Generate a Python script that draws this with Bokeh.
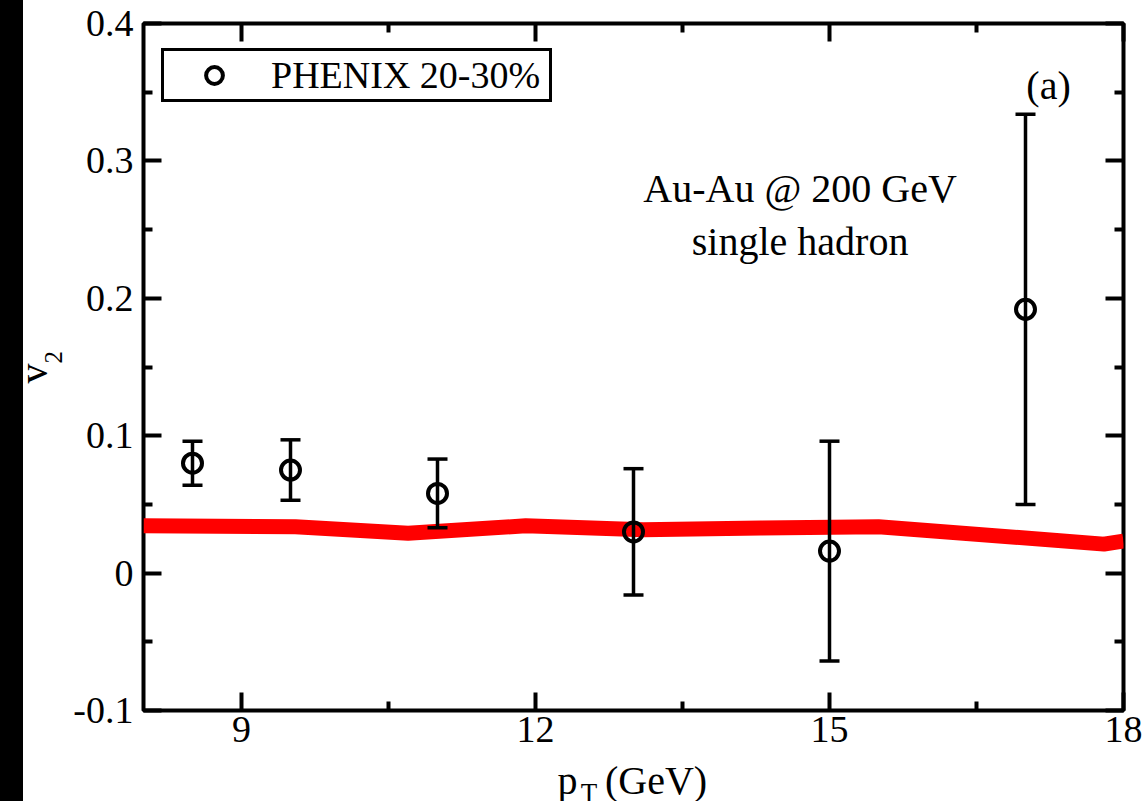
import math
from bokeh.plotting import figure
from bokeh.models import (Range1d, FixedTicker, LinearAxis, CustomJSTickFormatter, Label,
                          Legend, LegendItem, Whisker, TeeHead, ColumnDataSource, Div)
from bokeh.layouts import row, column
from bokeh.embed import file_html
from bokeh.resources import INLINE

# ---- data ----
pt_data = [8.5, 9.5, 11.0, 13.0, 15.0, 17.0]
v2_data = [0.080, 0.075, 0.058, 0.030, 0.016, 0.192]
v2_err = [0.016, 0.022, 0.025, 0.046, 0.080, 0.142]

pt_line = [8.0, 9.55, 10.7, 11.9, 13.1, 14.3, 15.5, 17.8, 18.0]
v2_line = [0.0344, 0.0338, 0.029, 0.0344, 0.0315, 0.0328, 0.0338, 0.0211, 0.0233]

x_ticks = [9, 12, 15, 18]
x_tick_labels = ["9", "12", "15", "18"]
x_minor = [10.5, 13.5, 16.5]
y_ticks = [-0.1, 0.0, 0.1, 0.2, 0.3, 0.4]
y_tick_labels = ["-0.1", "0", "0.1", "0.2", "0.3", "0.4"]
y_minor = [-0.05, 0.05, 0.15, 0.25, 0.35]

legend_text = "PHENIX 20-30%"
note_line1 = "Au-Au @ 200 GeV"
note_line2 = "single hadron"
panel_tag = "(a)"
x_title = ("p", "T", "(GeV)")
y_title = ("v", "2")

FONT = "Liberation Serif"

x_range = Range1d(8, 18)

# ---- main plot ----
p = figure(width=1079, height=762, output_backend="svg", toolbar_location=None,
           x_range=x_range, y_range=Range1d(-0.1, 0.4),
           min_border_left=75, min_border_right=24, min_border_top=23, min_border_bottom=52,
           x_axis_location=None, y_axis_location=None, margin=0)
p.grid.visible = False
p.outline_line_color = "black"
p.outline_line_width = 4
p.background_fill_color = "white"
p.border_fill_color = "white"

def fmt(tv, tl):
    return CustomJSTickFormatter(args=dict(tv=tv, tl=tl), code="""
        for (let i = 0; i < tv.length; i++) { if (Math.abs(tv[i] - tick) < 1e-9) return tl[i]; }
        return '';""")

blank = CustomJSTickFormatter(code="return '';")

def style_axis(ax, show_labels):
    ax.axis_line_color = None
    ax.major_tick_in = 18
    ax.major_tick_out = 0
    ax.minor_tick_in = 9
    ax.minor_tick_out = 0
    ax.major_tick_line_width = 4
    ax.minor_tick_line_width = 4
    ax.major_tick_line_color = "black"
    ax.minor_tick_line_color = "black"
    ax.major_label_text_font = FONT
    ax.major_label_text_font_size = "38px"
    ax.major_label_text_color = "black"
    if not show_labels:
        ax.major_label_standoff = 0

xt = FixedTicker(ticks=x_ticks, minor_ticks=x_minor)
yt = FixedTicker(ticks=y_ticks, minor_ticks=y_minor)

xb = LinearAxis(ticker=xt, formatter=fmt(x_ticks, x_tick_labels))
style_axis(xb, True); xb.major_label_standoff = 6
xa = LinearAxis(ticker=xt, formatter=blank)
style_axis(xa, False)
yl = LinearAxis(ticker=yt, formatter=fmt(y_ticks, y_tick_labels))
style_axis(yl, True); yl.major_label_standoff = 10
yr = LinearAxis(ticker=yt, formatter=blank)
style_axis(yr, False)
p.add_layout(xb, "below")
p.add_layout(xa, "above")
p.add_layout(yl, "left")
p.add_layout(yr, "right")

# theory curve
p.line(pt_line, v2_line, line_color="#ff0000", line_width=15)

# data with error bars
src = ColumnDataSource(dict(x=pt_data, y=v2_data,
                            upper=[v + e for v, e in zip(v2_data, v2_err)],
                            lower=[v - e for v, e in zip(v2_data, v2_err)]))
wh = Whisker(source=src, base="x", upper="upper", lower="lower",
             line_color="black", line_width=3.5, level="glyph",
             upper_head=TeeHead(size=20, line_width=3.5, line_color="black"),
             lower_head=TeeHead(size=20, line_width=3.5, line_color="black"))
p.add_layout(wh)
pts = p.scatter("x", "y", source=src, marker="circle", size=19, fill_color=None,
                line_color="black", line_width=4)

legend = Legend(items=[LegendItem(label=legend_text, renderers=[pts])],
                location=(18, 608), margin=0, padding=2, spacing=0,
                glyph_width=96, glyph_height=42, label_standoff=9, label_width=276,
                label_text_font=FONT, label_text_font_size="38px", label_text_color="black",
                label_text_baseline="middle",
                border_line_color="black", border_line_width=3.5, border_line_alpha=1.0,
                background_fill_color="white", background_fill_alpha=1.0)
p.add_layout(legend)

for txt, x, y in [(note_line1, 14.7, 0.2802), (note_line2, 14.7, 0.2416), (panel_tag, 17.235, 0.3551)]:
    p.add_layout(Label(x=x, y=y, text=txt, text_align="center", text_baseline="alphabetic",
                       text_font=FONT, text_font_size="40px", text_color="black"))

# ---- x title strip (window rows 762..801), same x scale as the plot ----
xf = figure(width=1079, height=39, output_backend="svg", toolbar_location=None,
            x_range=x_range, y_range=Range1d(801, 762),
            min_border_left=75, min_border_right=24, min_border_top=0, min_border_bottom=0,
            x_axis_location=None, y_axis_location=None, margin=0)
xf.grid.visible = False
xf.outline_line_color = None
for txt, x, y, fs in [(x_title[0], 12.327, 780, "40px"), (x_title[1], 12.546, 792, "27px"),
                      (x_title[2], 13.23, 780, "40px")]:
    xf.add_layout(Label(x=x, y=y, text=txt, text_align="center", text_baseline="alphabetic",
                        text_font=FONT, text_font_size=fs, text_color="black"))

# ---- y title strip (window pixels 23..68, 0..801) ----
yf = figure(width=45, height=801, output_backend="svg", toolbar_location=None,
            x_range=Range1d(23, 68), y_range=Range1d(801, 0),
            min_border=0, x_axis_location=None, y_axis_location=None, margin=0)
yf.grid.visible = False
yf.outline_line_color = None
for txt, x, y, fs in [(y_title[0], 33, 383, "40px"), (y_title[1], 53, 363, "25px")]:
    yf.add_layout(Label(x=x, y=y, text=txt, angle=math.pi / 2, text_align="left",
                        text_baseline="alphabetic", text_font=FONT, text_font_size=fs,
                        text_color="black"))

strip = Div(width=23, height=801, styles={"background-color": "black"}, margin=0)
layout = row(strip, yf, column(p, xf, margin=0, spacing=0), margin=0, spacing=0)

open("out.html", "w").write(file_html(layout, INLINE))
